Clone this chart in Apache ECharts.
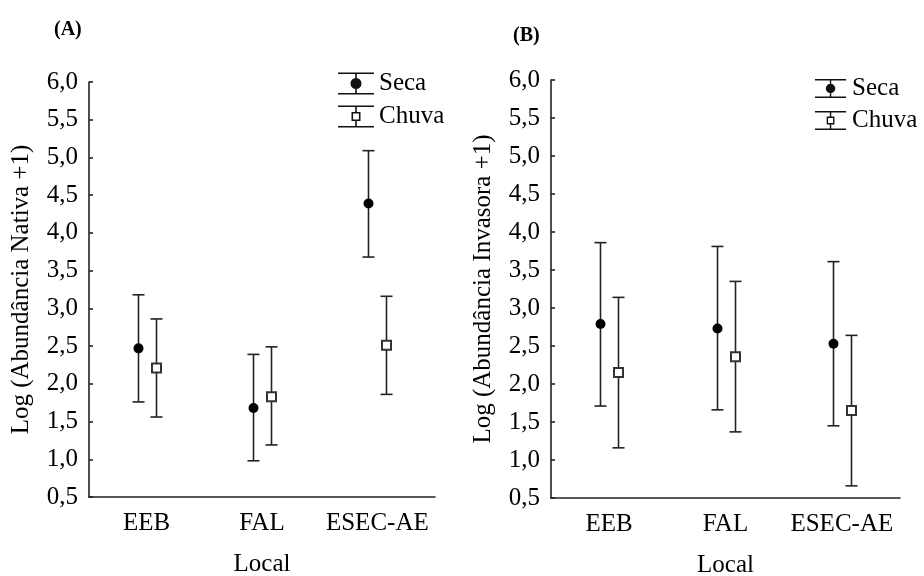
<!DOCTYPE html>
<html>
<head>
<meta charset="utf-8">
<script src="https://cdn.jsdelivr.net/npm/echarts@6/dist/echarts.min.js"></script>
<style>html,body{margin:0;padding:0;background:#fff}#c{width:924px;height:576px}</style>
</head>
<body>
<div id="c"></div>
<script>
const categories = ['EEB', 'FAL', 'ESEC-AE'];
const yTicks = [0.5, 6.0, 0.5]; // min, max, interval

// Panel A: Log (Abundância Nativa +1)
const nativaSecaMean = [2.47, 1.68, 4.39];
const nativaSecaLow = [1.76, 0.98, 3.68];
const nativaSecaHigh = [3.18, 2.39, 5.09];
const nativaChuvaMean = [2.21, 1.83, 2.51];
const nativaChuvaLow = [1.56, 1.19, 1.86];
const nativaChuvaHigh = [2.86, 2.49, 3.16];

// Panel B: Log (Abundância Invasora +1)
const invasoraSecaMean = [2.79, 2.73, 2.53];
const invasoraSecaLow = [1.71, 1.66, 1.45];
const invasoraSecaHigh = [3.86, 3.81, 3.61];
const invasoraChuvaMean = [2.15, 2.36, 1.65];
const invasoraChuvaLow = [1.16, 1.37, 0.66];
const invasoraChuvaHigh = [3.14, 3.35, 2.64];

const FONT = 'Liberation Serif';
const INK = '#222';

function rows(mean, low, high) {
  return categories.map((c, i) => [i, mean[i], low[i], high[i]]);
}

function makeRender(dx, kind) {
  return function (params, api) {
    const c = api.value(0);
    const m = api.coord([c, api.value(1)]);
    const lo = api.coord([c, api.value(2)]);
    const hi = api.coord([c, api.value(3)]);
    const x = Math.round(m[0] + dx) + 0.5;
    const cap = 6;
    const ls = { stroke: INK, lineWidth: 1.6 };
    const marker = kind === 'circle'
      ? { type: 'circle', shape: { cx: x, cy: m[1], r: 5 }, style: { fill: '#000' } }
      : { type: 'rect', shape: { x: x - 4.5, y: m[1] - 4.5, width: 9, height: 9 }, style: { fill: '#fff', stroke: '#333', lineWidth: 2 } };
    return {
      type: 'group',
      children: [
        { type: 'line', shape: { x1: x, y1: hi[1], x2: x, y2: lo[1] }, style: ls },
        { type: 'line', shape: { x1: x - cap, y1: hi[1], x2: x + cap, y2: hi[1] }, style: ls },
        { type: 'line', shape: { x1: x - cap, y1: lo[1], x2: x + cap, y2: lo[1] }, style: ls },
        marker
      ]
    };
  };
}

const secaIcon = 'path://M0 0H36V1.6H0Z M0 20.4H36V22H0Z M17.2 0H18.8V22H17.2Z M12.5 11A5.5 5.5 0 1 1 23.5 11A5.5 5.5 0 1 1 12.5 11Z';
const chuvaIcon = 'path://M0 0H36V1.6H0Z M0 20.4H36V22H0Z M17.2 0H18.8V6.5H17.2Z M17.2 15.5H18.8V22H17.2Z M13.5 6.5H22.5V15.5H13.5Z M15.1 8.1V13.9H20.9V8.1Z';

function xAxis(gi) {
  return {
    type: 'category', gridIndex: gi, data: categories, boundaryGap: true,
    name: 'Local', nameLocation: 'middle', nameGap: 55,
    nameTextStyle: { fontFamily: FONT, fontSize: 25, color: '#000' },
    axisLine: { lineStyle: { color: INK, width: 1.6 } },
    axisTick: { inside: true, length: 4, alignWithLabel: true, lineStyle: { color: INK, width: 1.6 } },
    axisLabel: { fontFamily: FONT, fontSize: 25, color: '#000', margin: 14, interval: 0, hideOverlap: false },
    splitLine: { show: false }
  };
}
function yAxis(gi, name) {
  return {
    type: 'value', gridIndex: gi, min: yTicks[0], max: yTicks[1], interval: yTicks[2],
    name: name, nameLocation: 'middle', nameGap: 55, nameRotate: 90,
    nameTextStyle: { fontFamily: FONT, fontSize: 25, color: '#000' },
    axisLine: { show: true, lineStyle: { color: INK, width: 1.6 } },
    axisTick: { show: true, inside: true, length: 4, lineStyle: { color: INK, width: 1.6 } },
    axisLabel: { fontFamily: FONT, fontSize: 25, color: '#000', margin: 11,
      formatter: v => v.toFixed(1).replace('.', ',') },
    splitLine: { show: false }
  };
}

const legendData = [
  { name: 'Seca', icon: secaIcon, itemStyle: { color: '#111', borderWidth: 0 } },
  { name: 'Chuva', icon: chuvaIcon, itemStyle: { color: '#111', borderWidth: 0 } }
];

const option = {
  backgroundColor: '#fff',
  animation: false,
  title: [
    { text: '(A)', left: 49, top: 15, textStyle: { fontFamily: FONT, fontSize: 20, fontWeight: 'bold', color: '#000' } },
    { text: '(B)', left: 508, top: 21, textStyle: { fontFamily: FONT, fontSize: 20, fontWeight: 'bold', color: '#000' } }
  ],
  legend: [
    { orient: 'vertical', left: 333, top: 66, itemWidth: 36, itemHeight: 22, itemGap: 8,
      data: legendData, selectedMode: false,
      textStyle: { fontFamily: FONT, fontSize: 25, color: '#000', lineHeight: 22 } },
    { orient: 'vertical', left: 810, top: 71, itemWidth: 33, itemHeight: 19, itemGap: 7,
      data: legendData, selectedMode: false,
      textStyle: { fontFamily: FONT, fontSize: 25, color: '#000', lineHeight: 19 } }
  ],
  grid: [
    { left: 89, top: 82, width: 346, height: 415, containLabel: false, outerBoundsMode: 'none' },
    { left: 551, top: 80, width: 349, height: 418, containLabel: false, outerBoundsMode: 'none' }
  ],
  xAxis: [xAxis(0), xAxis(1)],
  yAxis: [yAxis(0, 'Log (Abundância Nativa +1)'), yAxis(1, 'Log (Abundância Invasora +1)')],
  series: [
    { name: 'Seca', type: 'custom', xAxisIndex: 0, yAxisIndex: 0, itemStyle: { color: '#111' },
      renderItem: makeRender(-9, 'circle'), data: rows(nativaSecaMean, nativaSecaLow, nativaSecaHigh) },
    { name: 'Chuva', type: 'custom', xAxisIndex: 0, yAxisIndex: 0, itemStyle: { color: '#111' },
      renderItem: makeRender(9, 'square'), data: rows(nativaChuvaMean, nativaChuvaLow, nativaChuvaHigh) },
    { name: 'Seca', type: 'custom', xAxisIndex: 1, yAxisIndex: 1, itemStyle: { color: '#111' },
      renderItem: makeRender(-9, 'circle'), data: rows(invasoraSecaMean, invasoraSecaLow, invasoraSecaHigh) },
    { name: 'Chuva', type: 'custom', xAxisIndex: 1, yAxisIndex: 1, itemStyle: { color: '#111' },
      renderItem: makeRender(9, 'square'), data: rows(invasoraChuvaMean, invasoraChuvaLow, invasoraChuvaHigh) }
  ]
};

const chart = echarts.init(document.getElementById('c'), null, { renderer: 'canvas' });
chart.setOption(option);
</script>
</body>
</html>
